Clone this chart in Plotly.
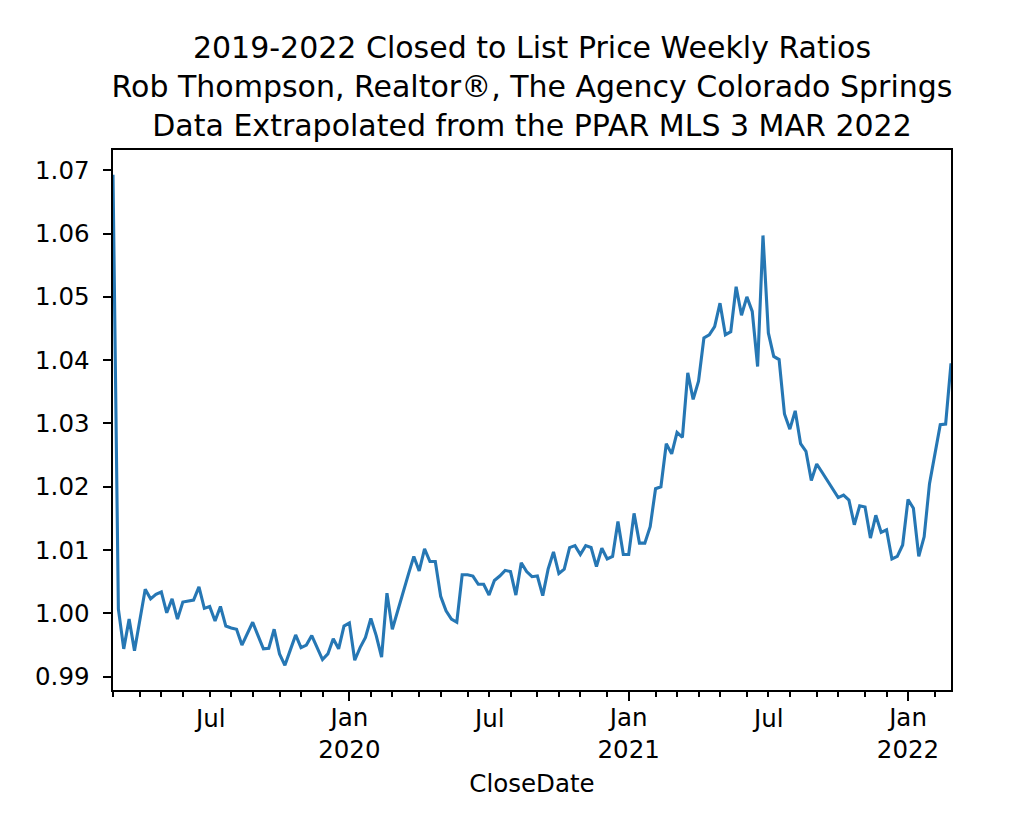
import pandas as pd
import plotly.graph_objects as go

# ---- data (weekly closed-to-list price ratios, weeks ending Sunday) ----
start_week = "2019-03-03"
ratios = [
    1.0693, 1.0007, 0.9944, 0.9991, 0.9941, 0.9989, 1.0038, 1.0023, 1.0030, 1.0034,
    1.0001, 1.0023, 0.9991, 1.0018, 1.0019, 1.0021, 1.0042, 1.0008, 1.0011, 0.9988,
    1.0011, 0.9980, 0.9977, 0.9975, 0.9950, 0.9967, 0.9986, 0.9965, 0.9944, 0.9945,
    0.9975, 0.9936, 0.9918, 0.9942, 0.9966, 0.9946, 0.9950, 0.9965, 0.9946, 0.9927,
    0.9936, 0.9960, 0.9944, 0.9980, 0.9985, 0.9926, 0.9946, 0.9962, 0.9992, 0.9965,
    0.9931, 1.0032, 0.9975, 1.0005, 1.0035, 1.0062, 1.0090, 1.0067, 1.0102, 1.0082,
    1.0082, 1.0027, 1.0004, 0.9991, 0.9986, 1.0061, 1.0061, 1.0059, 1.0046, 1.0046,
    1.0029, 1.0052, 1.0059, 1.0068, 1.0066, 1.0029, 1.0080, 1.0066, 1.0058, 1.0059,
    1.0028, 1.0070, 1.0097, 1.0063, 1.0070, 1.0104, 1.0107, 1.0093, 1.0107, 1.0104,
    1.0074, 1.0103, 1.0086, 1.0090, 1.0145, 1.0093, 1.0093, 1.0158, 1.0111, 1.0111,
    1.0137, 1.0197, 1.0200, 1.0268, 1.0252, 1.0286, 1.0278, 1.0380, 1.0338, 1.0367,
    1.0435, 1.0440, 1.0453, 1.0490, 1.0440, 1.0445, 1.0516, 1.0471, 1.0500, 1.0477,
    1.0390, 1.0597, 1.0443, 1.0406, 1.0401, 1.0315, 1.0291, 1.0320, 1.0268, 1.0256,
    1.0210, 1.0236, 1.0223, 1.0210, 1.0197, 1.0183, 1.0187, 1.0179, 1.0140, 1.0170,
    1.0168, 1.0119, 1.0155, 1.0128, 1.0132, 1.0086, 1.0090, 1.0108, 1.0180, 1.0166,
    1.0090, 1.0121, 1.0205, 1.0255, 1.0298, 1.0299, 1.0395,
]
dates = pd.date_range(start_week, periods=len(ratios), freq="W-SUN")

y_ticks = [0.99, 1.00, 1.01, 1.02, 1.03, 1.04, 1.05, 1.06, 1.07]
title_lines = [
    "2019-2022 Closed to List Price Weekly Ratios",
    "Rob Thompson, Realtor®, The Agency Colorado Springs",
    "Data Extrapolated from the PPAR MLS 3 MAR 2022",
]
x_label = "CloseDate"

# monthly ticks placed at the weekly period containing the 1st of each month
month_starts = pd.date_range("2019-03-01", "2022-02-01", freq="MS")
week_of = [d + pd.Timedelta(days=6 - d.weekday()) for d in month_starts]
jan_vals = [w for d, w in zip(month_starts, week_of) if d.month == 1]
jan_text = [f"Jan<br>{d.year}" for d in month_starts if d.month == 1]
jul_vals = [w for d, w in zip(month_starts, week_of) if d.month == 7]
jul_text = ["Jul" for d in month_starts if d.month == 7]
minor_vals = [w for d, w in zip(month_starts, week_of) if d.month != 1]

FONT = "DejaVu Sans"
TICK_SIZE = 24.5
xr = [dates[0], dates[-1]]

fig = go.Figure()
fig.add_trace(go.Scatter(
    x=dates, y=ratios, mode="lines",
    line=dict(color="#2677b4", width=3.1),
    showlegend=False, hoverinfo="x+y",
))

for v, t in zip(jul_vals, jul_text):
    fig.add_annotation(
        x=v, xref="x", y=0, yref="paper", text=t, showarrow=False,
        xanchor="center", yanchor="middle", yshift=-28,
        font=dict(family=FONT, size=TICK_SIZE, color="black"),
    )

fig.update_layout(
    width=1018, height=820,
    margin=dict(l=105, r=75, t=142, b=138),
    paper_bgcolor="white", plot_bgcolor="white",
    font=dict(family=FONT, size=TICK_SIZE, color="black"),
    title=dict(
        text="<br>".join(title_lines),
        x=0.5, xref="paper", xanchor="center",
        y=1 - 50 / 820, yref="container", yanchor="middle",
        font=dict(family=FONT, size=30, color="black"),
    ),
    xaxis=dict(
        type="date", range=xr,
        tickmode="array", tickvals=jan_vals, ticktext=jan_text,
        ticks="outside", ticklen=8.5, tickwidth=2, tickcolor="black",
        ticklabelstandoff=-4,
        showline=True, linewidth=2, linecolor="black", mirror=True,
        showgrid=False, zeroline=False,
        minor=dict(tickmode="array", tickvals=minor_vals, ticks="outside",
                   ticklen=5, tickwidth=1.6, tickcolor="black", showgrid=False),
        title=dict(text=x_label, standoff=12,
                   font=dict(family=FONT, size=TICK_SIZE, color="black")),
    ),
    yaxis=dict(
        range=[0.9879, 1.0732],
        tickmode="array", tickvals=y_ticks, tickformat=".2f",
        ticks="outside", ticklen=8.5, tickwidth=2, tickcolor="black",
        ticklabelstandoff=8,
        showline=True, linewidth=2, linecolor="black", mirror=True,
        showgrid=False, zeroline=False,
    ),
)

fig.write_html("out.html")
